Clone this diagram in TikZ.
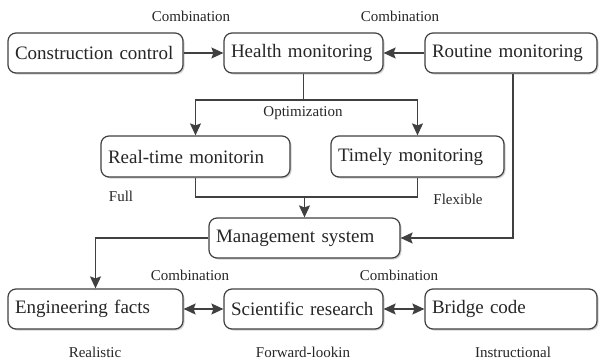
\documentclass[tikz,border=0pt]{standalone}
\usepackage{fontspec}
\setmainfont{Liberation Serif}
\usetikzlibrary{arrows.meta,shadows}
\definecolor{ln}{HTML}{404040}
\definecolor{tx}{HTML}{262626}
\tikzset{
  box/.style={draw=ln, line width=1.2pt, rounded corners=8pt, fill=white,
    minimum height=40pt, inner sep=0pt, inner xsep=7pt, align=left,
    font=\fontsize{19}{21}\selectfont, text=tx,
    drop shadow={shadow xshift=1.5pt, shadow yshift=-1.5pt, fill=black!18, opacity=1}},
  lbl/.style={font=\fontsize{15}{17}\selectfont, text=tx, inner sep=0pt},
  conn/.style={draw=ln, line width=1.5pt},
  arr/.style={conn, -{Stealth[length=12pt,width=11pt,inset=2pt]}},
  darr/.style={conn, {Stealth[length=12pt,width=11pt,inset=2pt]}-{Stealth[length=12pt,width=11pt,inset=2pt]}}
}
\begin{document}
\begin{tikzpicture}[x=1pt,y=-1pt]
\useasboundingbox (0,0) rectangle (599,361);
% boxes
\node[box, text width=161pt] (cc) at (95.5,53) {Construction control};
\node[box, text width=145pt] (hm) at (303.5,53) {Health monitoring};
\node[box, text width=158pt] (rm) at (511,53) {Routine monitoring};
\node[box, text width=175pt, minimum height=41pt] (rt) at (195.5,156.5) {Real-time monitorin};
\node[box, text width=159pt, minimum height=41pt] (tm) at (417.5,156.5) {Timely monitoring};
\node[box, text width=177pt] (ms) at (304.5,238) {Management system};
\node[box, text width=161pt] (ef) at (95.5,309) {Engineering facts};
\node[box, text width=145pt] (sr) at (303.5,309) {Scientific research};
\node[box, text width=158pt] (bc) at (511,309) {Bridge code};
% coordinates
\coordinate (split) at (303.5,100);
\coordinate (join) at (304.5,197);
% connectors
\draw[arr] (cc.east) -- (hm.west);
\draw[arr] (rm.west) -- (hm.east);
\draw[conn] (hm.south) -- (split);
\draw[arr] (split) -| (rt.north);
\draw[arr] (split) -| (tm.north);
\draw[conn] (rt.south) |- (join);
\draw[conn] (tm.south) |- (join);
\draw[arr] (join) -- (ms.north);
\draw[arr] ([xshift=2pt]rm.south) |- (ms.east);
\draw[arr] (ms.west) -| (ef.north);
\draw[darr] (ef.east) -- (sr.west);
\draw[darr] (sr.east) -- (bc.west);
% labels
\node[lbl] (l1) at (191,16) {Combination};
\node[lbl] (l2) at (400,16) {Combination};
\node[lbl] (l3) at (303,113) {Optimization};
\node[lbl] (l4) at (121,196) {Full};
\node[lbl] (l5) at (458,199) {Flexible};
\node[lbl] (l6) at (190,275) {Combination};
\node[lbl] (l7) at (399,275) {Combination};
\node[lbl] (l8) at (95,352) {Realistic};
\node[lbl] (l9) at (303,352) {Forward-lookin};
\node[lbl] (l10) at (513,352) {Instructional};
\end{tikzpicture}
\end{document}
